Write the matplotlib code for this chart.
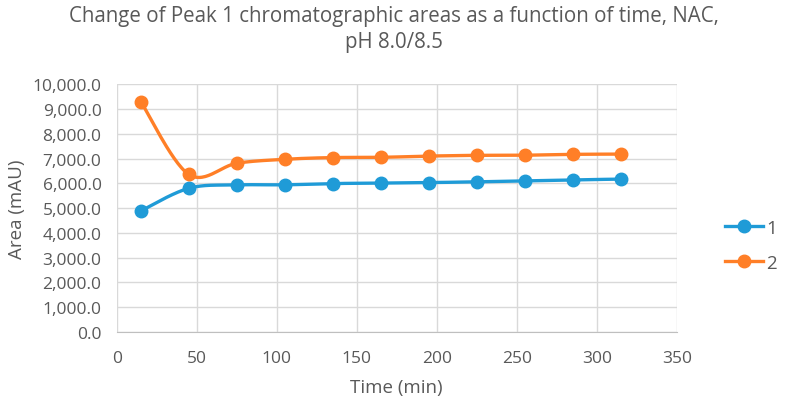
import matplotlib.pyplot as plt
import numpy as np

plt.rcParams['font.family'] = ['Open Sans', 'DejaVu Sans']

time_min = [15, 45, 75, 105, 135, 165, 195, 225, 255, 285, 315]
peak_1 = [4885, 5800, 5935, 5940, 5990, 6010, 6030, 6060, 6100, 6140, 6170]
peak_2 = [9300, 6360, 6810, 6970, 7040, 7050, 7100, 7130, 7135, 7170, 7180]
series_labels = ['1', '2']
colors = ['#1F9BD7', '#FF7F27']

x_ticks = np.arange(0, 351, 50)
y_ticks = np.arange(0, 10001, 1000)
text_grey = '#595959'


def smooth(xs, ys, n=30):
    # Excel-style smoothed line: Catmull-Rom segments drawn as cubic Bezier
    xs = np.asarray(xs, float)
    ys = np.asarray(ys, float)
    px = np.concatenate([[xs[0]], xs, [xs[-1]]])
    py = np.concatenate([[ys[0]], ys, [ys[-1]]])
    t = np.linspace(0, 1, n)[:, None]
    out_x, out_y = [], []
    for i in range(1, len(px) - 2):
        p0 = np.array([px[i], py[i]])
        p3 = np.array([px[i + 1], py[i + 1]])
        c1 = p0 + (np.array([px[i + 1], py[i + 1]]) - np.array([px[i - 1], py[i - 1]])) / 6
        c2 = p3 - (np.array([px[i + 2], py[i + 2]]) - np.array([px[i], py[i]])) / 6
        b = ((1 - t) ** 3) * p0 + 3 * ((1 - t) ** 2) * t * c1 + 3 * (1 - t) * t ** 2 * c2 + t ** 3 * p3
        out_x.extend(b[:, 0])
        out_y.extend(b[:, 1])
    return out_x, out_y


fig = plt.figure(figsize=(7.88, 4.06), dpi=100)
ax = fig.add_axes([0.1482, 0.180, 0.7107, 0.610])

for ys, lab, c in zip([peak_1, peak_2], series_labels, colors):
    sx, sy = smooth(time_min, ys)
    ax.plot(sx, sy, color=c, lw=2.4, solid_capstyle='round', zorder=3)
    ax.plot(time_min, ys, 'o', color=c, ms=9, zorder=4)
    ax.plot([], [], '-o', color=c, lw=2.4, ms=9, label=lab)

ax.set_xlim(0, 350)
ax.set_ylim(0, 10000)
ax.set_xticks(x_ticks)
ax.set_yticks(y_ticks)
ax.set_yticklabels([f'{v:,.1f}' for v in y_ticks])
ax.grid(True, color='#D9D9D9', lw=1)
ax.set_axisbelow(True)
for s in ['top', 'right', 'left']:
    ax.spines[s].set_visible(False)
ax.spines['bottom'].set_color('#BFBFBF')
ax.tick_params(length=0, colors=text_grey, labelsize=12.5)
ax.tick_params(axis='y', pad=11)
ax.tick_params(axis='x', pad=13)

ax.set_xlabel('Time (min)', color=text_grey, fontsize=13.5, labelpad=9)
ax.set_ylabel('Area (mAU)', color=text_grey, fontsize=13.5, labelpad=5)
fig.suptitle('Change of Peak 1 chromatographic areas as a function of time, NAC,\npH 8.0/8.5',
             color=text_grey, fontsize=14.8, y=0.985, linespacing=1.3)

handles, labels = ax.get_legend_handles_labels()
fig.legend(handles, labels, loc='center left', bbox_to_anchor=(0.899, 0.393), frameon=False,
           labelcolor=text_grey, fontsize=13.5, handlelength=2.0, handletextpad=0.2,
           labelspacing=0.9)

plt.savefig('out.png', dpi=100)
